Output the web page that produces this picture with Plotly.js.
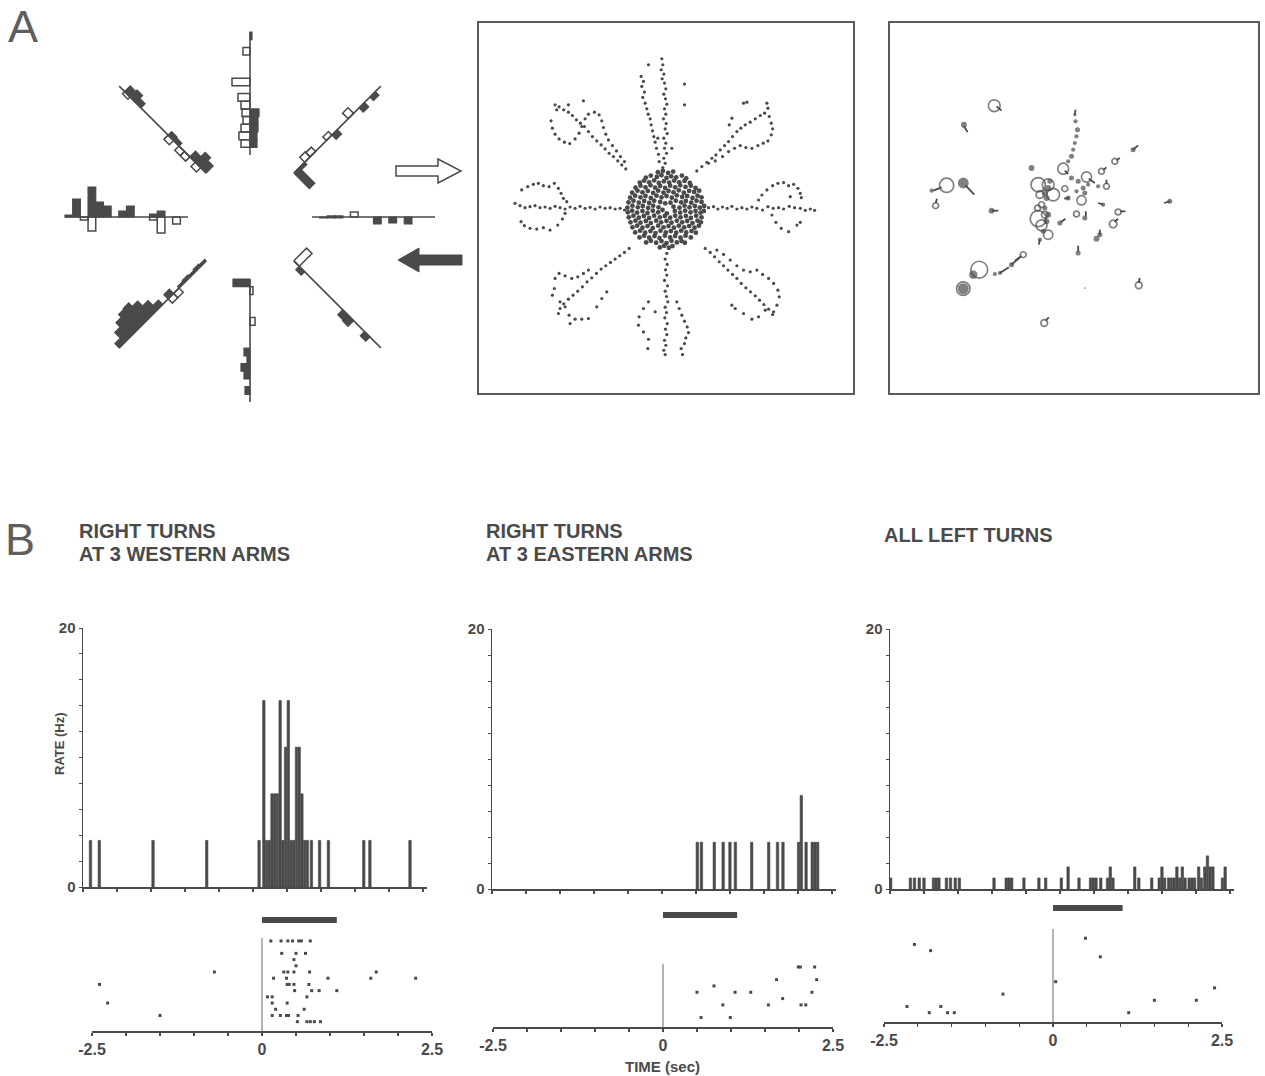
<!DOCTYPE html>
<html><head><meta charset="utf-8">
<script src="https://cdn.plot.ly/plotly-3.0.1.min.js"></script>
<style>html,body{margin:0;padding:0;background:#fff;}#chart{width:1265px;height:1076px;}</style>
</head><body><div id="chart"></div>
<script>
// ================= DATA =================
// Panel A left: radial histograms, one per maze arm (E, NE, N, NW, W, SW, S, SE)
const armAngles = [0, 45, 90, 135, 180, 225, 270, 315];
// 16 bins per arm, inner to outer; filled = right-hand side, open = left-hand side
const armFilled = [
  [0,1,1,1,0,0,0,0,7,0,6,0,7,0,0,0],
  [22,3,0,0,0,0,0,6,0,0,0,0,6,0,5,0],
  [0,7,7,8,8,9,0,0,0,0,0,0,0,0,0,2],
  [10,14,8,0,0,4,5,0,0,0,0,0,6,10,8,0],
  [0,0,0,6,3,0,0,11,6,0,11,15,30,0,18,2],
  [2,3,2,3,2,0,6,0,6,13,20,25,24,20,14,6],
  [17,0,0,0,0,0,0,0,0,6,3,9,6,0,5,0],
  [0,5,0,0,0,0,0,0,0,7,8,0,0,6,0,0]
];
const armOpen = [
  [0,0,1,1,0,5,0,0,0,0,0,0,0,0,0,0],
  [0,0,7,6,0,0,5,0,0,0,8,0,0,0,0,0],
  [0,9,11,9,7,8,9,12,0,18,0,0,0,7,0,0],
  [0,6,0,6,6,0,6,0,0,0,0,0,0,0,3,0],
  [0,7,0,16,3,0,0,0,0,0,0,0,14,3,0,0],
  [0,0,0,0,0,6,6,0,0,0,0,0,0,0,0,0],
  [0,3,0,0,0,5,0,0,0,0,0,0,0,0,0,0],
  [18,0,0,0,0,0,0,0,0,0,0,0,0,0,0,0]
];

// Panel A middle: tracked positions (camera units, y downward)
const armTrack = [
 [560,132],[563,150],[558,165],[566,178],[561,192],[568,205],[572,222],[566,238],[571,252],[575,268],[568,282],[572,298],[565,312],[573,326],[570,342],[576,356],[566,370],[572,385],[568,400],[574,415],[566,430],[570,445],[563,458],
 [498,185],[505,200],[500,215],[508,232],[503,248],[510,265],[515,282],[519,298],[525,312],[528,330],[532,348],[536,365],[540,382],[544,400],[550,418],[552,440],[520,150],[628,208],[628,270],[548,370],[590,400],
 [665,468],[680,455],[695,442],[710,430],[722,420],[735,405],[748,392],[760,380],[772,365],[785,350],[797,340],[810,330],[825,322],[840,312],[855,302],[868,295],[878,280],[875,265],[805,265],[815,262],[770,310],[762,330],
 [700,445],[720,438],[742,425],[760,410],[778,400],[795,392],[812,398],[830,400],[848,392],[864,385],[878,378],[888,360],[892,342],[888,325],[882,305],
 [700,578],[715,575],[728,582],[742,576],[756,580],[770,574],[785,582],[800,578],[815,582],[830,576],[845,580],[862,585],[878,575],[894,580],[910,578],[925,582],[942,574],[958,578],[975,580],[990,586],[1005,582],[1018,586],
 [850,555],[860,540],[875,525],[892,512],[908,505],[925,503],[940,512],[955,508],[968,520],[975,535],[978,548],[945,545],[890,600],[902,622],[918,640],[940,650],[965,630],[975,622],
 [690,700],[705,712],[718,725],[732,740],[745,752],[758,765],[772,778],[785,790],[798,805],[812,818],[826,830],[840,842],[853,855],[866,868],[880,882],[892,898],
 [725,705],[745,718],[765,735],[785,752],[805,765],[825,770],[845,765],[862,778],[880,790],[895,805],[908,825],[912,845],[905,870],[895,890],[870,885],[850,905],[830,912],[805,895],[780,880],[770,870],
 [575,715],[570,732],[576,748],[571,764],[575,780],[568,796],[577,812],[570,828],[574,844],[578,860],[570,876],[574,892],[569,908],[576,925],[571,942],[575,958],[568,975],[572,990],[566,1005],[570,1018],
 [520,860],[505,880],[492,905],[490,930],[505,950],[520,972],[518,1000],[540,890],[605,860],[612,880],[620,900],[628,918],[636,935],[640,952],[632,968],[628,985],[618,1000],[622,1018],
 [462,700],[448,712],[434,722],[420,732],[406,742],[392,752],[378,762],[364,775],[350,788],[336,800],[322,815],[308,828],[294,840],[280,852],[266,866],[255,880],[250,895],
 [340,765],[325,775],[308,785],[290,790],[270,782],[252,775],[240,790],[238,820],[232,840],[255,860],[270,875],[282,900],[285,925],[300,912],[320,912],[340,910],[365,875],[380,850],[395,830],
 [120,565],[135,572],[150,578],[165,575],[180,572],[195,578],[210,576],[225,580],[240,574],[255,578],[270,582],[285,576],[300,580],[315,574],[330,580],[345,577],[360,582],[375,576],[390,580],[405,578],[420,582],[435,580],[448,585],
 [140,525],[158,515],[175,508],[190,505],[205,512],[222,515],[238,505],[250,520],[258,535],[265,550],[275,560],[138,620],[148,632],[165,640],[185,642],[205,638],[225,645],[248,630],[262,612],[270,595],
 [452,462],[440,450],[428,438],[415,425],[402,415],[390,402],[378,390],[365,378],[352,365],[340,350],[328,335],[316,325],[304,315],[292,302],[280,292],[266,285],[252,276],[240,270],
 [228,318],[232,340],[240,358],[252,372],[268,382],[284,386],[300,372],[312,355],[320,335],[330,312],[340,298],[358,292],[372,300],[380,318],[385,338],[392,358],[400,375],[412,392],[424,408],[436,425],[448,440],[325,258],[280,270],[245,285]
];
const centreTrack = [
 [548,472],[563,468],[579,474],[594,470],
 [512,488],[527,482],[545,486],[559,481],[574,489],[588,484],[603,487],[620,482],[633,490],
 [494,503],[507,497],[522,502],[537,496],[551,504],[566,499],[582,503],[597,497],[612,502],[628,498],[644,504],
 [481,518],[496,512],[511,517],[526,511],[540,518],[555,513],[570,519],[585,512],[600,517],[615,511],[631,516],[647,512],[661,519],
 [471,533],[487,527],[502,532],[518,528],[534,534],[549,527],[565,533],[580,528],[595,532],[611,526],[626,533],[642,528],[657,531],[672,527],
 [465,548],[480,542],[496,547],[511,543],[527,549],[544,542],[559,547],[574,543],[590,548],[605,541],[621,546],[636,543],[652,549],[667,542],[679,547],
 [460,562],[475,557],[491,563],[507,558],[522,564],[537,557],[555,561],[586,563],[602,557],[618,562],[632,558],[648,563],[664,557],[679,561],
 [457,578],[472,572],[488,577],[503,573],[519,579],[534,572],[550,577],[613,578],[628,572],[643,577],[659,573],[674,578],[687,573],
 [458,592],[471,587],[486,593],[502,588],[517,594],[533,587],[549,592],[599,588],[615,593],[630,587],[646,592],[661,588],[676,593],[686,588],
 [461,607],[475,602],[491,608],[506,603],[522,609],[537,602],[554,607],[569,603],[585,608],[600,602],[616,607],[632,603],[647,609],[663,602],[679,607],
 [466,622],[481,617],[496,623],[512,618],[527,624],[543,617],[558,622],[574,618],[589,623],[605,617],[621,622],[636,618],[652,624],[667,617],[677,622],
 [472,637],[486,632],[502,638],[517,633],[533,639],[549,632],[565,637],[580,633],[596,638],[611,632],[627,637],[642,633],[658,638],[671,632],
 [480,652],[495,647],[510,653],[526,648],[541,654],[556,647],[572,652],[587,648],[603,653],[618,647],[633,652],[649,648],[662,653],
 [493,667],[507,662],[522,668],[538,663],[553,669],[569,662],[585,667],[600,663],[616,668],[631,662],[647,667],
 [513,682],[527,677],[543,683],[559,678],[574,684],[589,677],[605,682],[619,678],[629,683],
 [554,697],[567,692],[581,698],[592,693],[570,565],[595,575],[575,595],[562,585]
];

// Panel A right: firing locations (x, y, diameter) and heading tails
const fieldOpen = [
 [328,273,28],[690,440,14],[650,470,14],[535,462,26],[605,487,24],[665,515,14],[185,512,34],[152,573,14],[460,510,34],[490,510,28],
 [505,540,30],[465,540,18],[470,570,14],[458,580,14],[480,600,16],[460,612,38],[470,632,26],[490,660,22],[540,522,14],[590,557,22],
 [575,598,14],[700,592,14],[685,628,18],[415,720,14],[283,765,40],[235,822,32],[762,812,16],[478,925,16]
];
const fieldDots = [
 [237,330,14],[570,300,8],[572,320,10],[578,345,12],[575,365,10],[570,385,10],[565,405,10],[560,425,12],[550,440,10],[745,405,12],
 [440,460,14],[640,515,10],[235,505,26],[140,528,10],[320,588,14],[490,520,14],[485,550,14],[495,500,12],[480,580,12],[490,600,14],
 [485,620,14],[475,650,12],[465,675,10],[480,535,14],[550,550,12],[560,490,12],[580,500,12],[595,520,12],[600,535,12],[575,530,10],
 [610,510,10],[600,610,12],[655,570,10],[635,672,14],[645,660,12],[525,625,12],[580,715,12],[380,750,12],[345,775,10],[330,778,10],
 [265,780,20],[235,822,26],[855,560,12],[600,820,4]
];
const fieldTails = [
 [335,275,350,288],[237,335,248,352],[570,300,572,285],[745,405,760,392],[695,437,705,430],[655,466,665,458],[540,468,550,478],
 [612,492,630,505],[665,508,665,495],[170,518,145,528],[242,512,268,540],[152,566,156,552],[320,588,340,588],[552,550,538,552],
 [603,605,603,590],[655,570,640,565],[706,590,722,590],[690,622,700,612],[645,660,645,645],[528,622,542,612],[580,710,580,693],
 [410,724,390,738],[762,805,765,790],[482,918,492,908],[855,560,838,565],[465,675,462,690],[380,750,405,728],[345,775,372,758]
];

// Panel B: peri-event histograms (time s, rate Hz)
const hist1T  = [-2.39,-2.26,-1.47,-0.68,0.09,0.16,0.20,0.24,0.28,0.32,0.36,0.40,0.44,0.48,0.52,0.56,0.60,0.64,0.68,0.72,0.76,0.80,0.86,0.98,1.11,1.63,1.72,2.31];
const hist1Hz = [3.6,3.6,3.6,3.6,3.6,14.4,3.6,3.6,7.2,7.2,7.2,14.4,3.6,10.8,14.4,3.6,3.6,10.8,10.8,7.2,3.6,3.6,3.6,3.6,3.6,3.6,3.6,3.6];
const hist2T  = [0.52,0.58,0.77,0.90,1.00,1.08,1.32,1.57,1.70,1.78,2.01,2.05,2.12,2.21,2.25,2.29];
const hist2Hz = [3.6,3.6,3.6,3.6,3.6,3.6,3.6,3.6,3.6,3.6,3.6,7.2,3.6,3.6,3.6,3.6];
const hist3T  = [-2.49,-2.20,-2.14,-2.07,-2.00,-1.86,-1.82,-1.78,-1.67,-1.61,-1.54,-1.48,-0.97,-0.79,-0.75,-0.71,-0.53,-0.31,-0.21,0.02,0.12,0.28,0.45,0.49,0.53,0.60,0.70,0.74,0.78,1.10,1.16,1.35,1.46,1.50,1.54,1.60,1.64,1.68,1.72,1.76,1.80,1.84,1.90,1.94,1.98,2.04,2.08,2.13,2.17,2.21,2.25,2.39,2.43];
const hist3Hz = [0.85,0.85,0.85,0.85,0.85,0.85,0.85,0.85,0.85,0.85,0.85,0.85,0.85,0.85,0.85,0.85,0.85,0.85,0.85,0.85,1.7,0.85,0.85,0.85,0.85,0.85,0.85,1.7,0.85,1.7,0.85,0.85,0.85,1.7,0.85,0.85,0.85,0.85,1.7,0.85,1.7,0.85,0.85,0.85,0.85,1.7,0.85,1.7,2.55,1.7,1.7,0.85,1.7];

// Panel B: rasters (spike time s, trial number)
const ras1T     = [0.13,0.28,0.38,0.45,0.54,0.58,0.71, 0.29,0.50,0.64, 0.47, 0.50, -0.70,0.32,0.38,0.47,0.70,1.68, 0.17,0.36,0.97,1.60,2.26, -2.39,0.37,0.40,0.47,0.69, 0.48,0.73,0.84,1.10, 0.08,0.15,0.66, -2.27,0.15,0.37, 0.20,0.62, -1.50,0.15,0.27,0.36,0.39,0.53, 0.52,0.66,0.71,0.77,0.86];
const ras1Trial = [14,14,14,14,14,14,14, 12,12,12, 11, 10, 9,9,9,9,9,9, 8,8,8,8,8, 7,7,7,7,7, 6,6,6,6, 5,5,5, 4,4,4, 3,3, 2,2,2,2,2,2, 1,1,1,1,1];
const ras2T     = [1.99,2.02,2.23, 1.67,2.26, 0.75, 0.50,1.06,1.29,2.19, 1.76, 0.88,1.55,2.03,2.10, 0.56,0.99];
const ras2Trial = [9,9,9, 7,7, 6, 5,5,5,5, 4, 3,3,3,3, 1,1];
const ras3T     = [0.48,-2.05,-1.81,0.70,0.04,2.39,-0.74,1.50,2.12,-2.16,-1.66,-1.83,-1.56,-1.46,1.12];
const ras3Trial = [13,12,11,10,6,5,4,3,3,2,2,1,1,1,1];
const trialCount = [15,10,15];
const turnEnd = [1.10,1.09,1.03];

const titleLines = [["RIGHT TURNS","AT 3 WESTERN ARMS"],["RIGHT TURNS","AT 3 EASTERN ARMS"],["ALL LEFT TURNS"]];
const rasterTickVals = [-2.5,-2,-1.5,-1,-0.5,0,0.5,1,1.5,2,2.5];
const rasterTickText = ["-2.5","","","","","0","","","","","2.5"];

// ================= DRAWING =================
const W = 1265, H = 1076;
const INK = '#4a4a4a';
const FONT = 'Liberation Sans, Arial, sans-serif';
const px = x => x / W;
const py = y => 1 - y / H;

const traces = [];

// --- radial histograms
const R0 = 62, R1 = 185, NBIN = 16, BW = (R1 - R0) / NBIN;
function armPolys(values, side) {
  const xs = [], ys = [];
  armAngles.forEach((deg, k) => {
    const t = deg * Math.PI / 180, ux = Math.cos(t), uy = Math.sin(t), nx = Math.sin(t), ny = -Math.cos(t);
    values[k].forEach((v, i) => {
      if (!v) return;
      const ra = R0 + i * BW, rb = ra + BW, h = side * v;
      [[ra,0],[rb,0],[rb,h],[ra,h],[ra,0]].forEach(([r,d]) => { xs.push(r*ux + d*nx); ys.push(r*uy + d*ny); });
      xs.push(null); ys.push(null);
    });
  });
  return {xs, ys};
}
const fp = armPolys(armFilled, 1), op = armPolys(armOpen, -1);
traces.push({type:'scatter', mode:'lines', x:fp.xs, y:fp.ys, fill:'toself', fillcolor:INK, line:{color:INK, width:1.2}, xaxis:'x', yaxis:'y', hoverinfo:'skip'});
traces.push({type:'scatter', mode:'lines', x:op.xs, y:op.ys, fill:'toself', fillcolor:'#ffffff', line:{color:INK, width:1.5}, xaxis:'x', yaxis:'y', hoverinfo:'skip'});
const axX = [], axY = [];
armAngles.forEach(deg => { const t = deg*Math.PI/180; axX.push(R0*Math.cos(t), R1*Math.cos(t), null); axY.push(R0*Math.sin(t), R1*Math.sin(t), null); });
traces.push({type:'scatter', mode:'lines', x:axX, y:axY, line:{color:INK, width:1.6}, xaxis:'x', yaxis:'y', hoverinfo:'skip'});

// --- tracked positions
traces.push({type:'scatter', mode:'markers', x:armTrack.map(p=>p[0]), y:armTrack.map(p=>p[1]), marker:{size:3.2, color:INK}, xaxis:'x2', yaxis:'y2'});
traces.push({type:'scatter', mode:'markers', x:centreTrack.map(p=>p[0]), y:centreTrack.map(p=>p[1]), marker:{size:4.8, color:INK}, xaxis:'x2', yaxis:'y2'});

// --- firing locations
const fieldScale = 0.42;
const tx = [], ty = [];
fieldTails.forEach(t => { tx.push(t[0], t[2], null); ty.push(t[1], t[3], null); });
traces.push({type:'scatter', mode:'lines', x:tx, y:ty, line:{color:INK, width:1.8}, xaxis:'x3', yaxis:'y3'});
traces.push({type:'scatter', mode:'markers', x:fieldDots.map(p=>p[0]), y:fieldDots.map(p=>p[1]), marker:{symbol:'circle', size:fieldDots.map(p=>p[2]*fieldScale), color:INK, line:{width:0}}, xaxis:'x3', yaxis:'y3'});
traces.push({type:'scatter', mode:'markers', x:fieldOpen.map(p=>p[0]), y:fieldOpen.map(p=>p[1]), marker:{symbol:'circle-open', size:fieldOpen.map(p=>p[2]*fieldScale), color:INK, line:{width:1.7, color:INK}}, xaxis:'x3', yaxis:'y3'});

// --- histograms
[[hist1T,hist1Hz],[hist2T,hist2Hz],[hist3T,hist3Hz]].forEach((h, k) => {
  traces.push({type:'bar', x:h[0], y:h[1], width:0.036, marker:{color:INK, line:{color:INK, width:0.6}}, xaxis:'x'+(4+k), yaxis:'y'+(4+k)});
});
// --- rasters
[[ras1T,ras1Trial],[ras2T,ras2Trial],[ras3T,ras3Trial]].forEach((r, k) => {
  traces.push({type:'scatter', mode:'markers', x:r[0], y:r[1].map(v=>v+0.5), marker:{symbol:'square', size:3, color:INK}, xaxis:'x'+(7+k), yaxis:'y'+(7+k)});
});

// ================= LAYOUT =================
const hidden = (dom, rng, anchor) => ({domain:dom, range:rng, visible:false, fixedrange:true, anchor:anchor});
const frameAx = (dom, rng, anchor) => ({domain:dom, range:rng, anchor:anchor, showline:true, mirror:true, linecolor:'#5a5a5a', linewidth:1.6, showgrid:false, zeroline:false, showticklabels:false, ticks:''});
const tickFont = s => ({family:FONT, size:s, color:INK, weight:'bold'});
const histX = (dom, anchor) => ({domain:dom, anchor:anchor, range:[-2.5,2.56], showline:true, linecolor:INK, linewidth:1.5, ticks:'outside', ticklen:3, tickwidth:1.2, tickcolor:INK, tickmode:'linear', tick0:-2.5, dtick:0.5, showticklabels:false, showgrid:false, zeroline:false});
const histY = (dom, anchor) => ({domain:dom, anchor:anchor, range:[0,20], showline:true, linecolor:INK, linewidth:1.5, ticks:'outside', ticklen:3, tickcolor:INK, tickmode:'array', tickvals:[0,20], ticktext:['0','20'], tickfont:tickFont(15), minor:{tickmode:'linear', tick0:0, dtick:2, ticks:'outside', ticklen:3, tickcolor:INK}, showgrid:false, zeroline:false});
const rasX = (dom, anchor) => ({domain:dom, anchor:anchor, range:[-2.5,2.5], showline:true, linecolor:INK, linewidth:1.5, ticks:'outside', ticklen:3, tickwidth:1.2, tickcolor:INK, tickmode:'array', tickvals:rasterTickVals, ticktext:rasterTickText, tickfont:tickFont(16), showgrid:false, zeroline:false});

const layout = {
  width:W, height:H, margin:{l:0,r:0,t:0,b:0}, paper_bgcolor:'#ffffff', plot_bgcolor:'rgba(0,0,0,0)', showlegend:false,
  xaxis:  hidden([px(20),px(480)], [-230,230], 'y'),
  yaxis:  hidden([py(420),py(10)], [-203,207], 'x'),
  xaxis2: frameAx([px(479),px(853)], [12,1133], 'y2'),
  yaxis2: frameAx([py(393),py(23)], [1133,25], 'x2'),
  xaxis3: frameAx([px(890),px(1258)], [15,1120], 'y3'),
  yaxis3: frameAx([py(393),py(23)], [1135,25], 'x3'),
  xaxis4: histX([px(83),px(427)], 'y4'),
  yaxis4: histY([py(887),py(628)], 'x4'),
  xaxis5: histX([px(492),px(836)], 'y5'),
  yaxis5: histY([py(889),py(629)], 'x5'),
  xaxis6: histX([px(890),px(1234)], 'y6'),
  yaxis6: histY([py(889),py(629)], 'x6'),
  xaxis7: rasX([px(92),px(432)], 'y7'),
  yaxis7: hidden([py(1031),py(913)], [0,19], 'x7'),
  xaxis8: rasX([px(493),px(833)], 'y8'),
  yaxis8: hidden([py(1027),py(907)], [0,19], 'x8'),
  xaxis9: rasX([px(884),px(1222)], 'y9'),
  yaxis9: hidden([py(1022),py(901)], [0,19.5], 'x9'),
  shapes: [], annotations: []
};

// arrows between panels
const pathPx = pts => 'M ' + pts.map(p => px(p[0]) + ' ' + py(p[1])).join(' L ') + ' Z';
layout.shapes.push({type:'path', xref:'paper', yref:'paper', path:pathPx([[396,166],[438,166],[438,159],[461,171],[438,183],[438,176],[396,176]]), fillcolor:'#ffffff', line:{color:INK, width:1.5}});
layout.shapes.push({type:'path', xref:'paper', yref:'paper', path:pathPx([[398,260],[419,248],[419,255],[462,255],[462,265],[419,265],[419,272]]), fillcolor:INK, line:{color:INK, width:1}});

// raster zero lines and turn bars
const barY = [[917,923],[912,918],[905,911]];
[7,8,9].forEach((a, k) => {
  layout.shapes.push({type:'line', xref:'x'+a, yref:'y'+a, x0:0, x1:0, y0:0, y1:trialCount[k], line:{color:'#6a6a6a', width:1}});
  layout.shapes.push({type:'rect', xref:'x'+a, yref:'paper', x0:0, x1:turnEnd[k], y0:py(barY[k][1]), y1:py(barY[k][0]), fillcolor:INK, line:{width:0}});
});

// text
const ann = (text, x, y, o) => Object.assign({text:text, x:px(x), y:py(y), xref:'paper', yref:'paper', showarrow:false, xanchor:'left', yanchor:'middle', font:{family:FONT, size:20, color:INK, weight:'bold'}}, o || {});
layout.annotations.push(ann('A', 6, 27, {font:{family:FONT, size:45, color:'#5e5e5e'}}));
layout.annotations.push(ann('B', 3, 539, {font:{family:FONT, size:45, color:'#5e5e5e'}}));
const titlePos = [[77,531,554],[484,531,554],[882,535,0]];
titleLines.forEach((lines, k) => {
  lines.forEach((t, j) => layout.annotations.push(ann(t, titlePos[k][0], j === 0 ? titlePos[k][1] : titlePos[k][2])));
});
layout.annotations.push(ann('RATE (Hz)', 59, 744, {xanchor:'center', textangle:-90, font:{family:FONT, size:13, color:INK, weight:'bold'}}));
layout.annotations.push(ann('TIME (sec)', 662, 1066, {xanchor:'center', font:{family:FONT, size:15, color:INK, weight:'bold'}}));

Plotly.newPlot('chart', traces, layout, {staticPlot:true, displayModeBar:false});
</script>
</body></html>
